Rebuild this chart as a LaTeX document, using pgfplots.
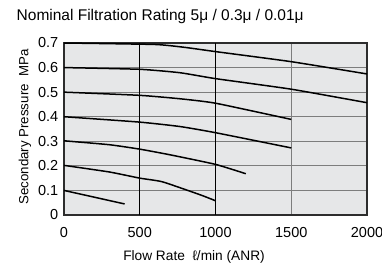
\documentclass[border=0pt]{standalone}
\usepackage{pgfplots}
\pgfplotsset{compat=1.18}
\usepackage{fontspec}
\setmainfont{Liberation Sans}
\definecolor{bg}{RGB}{230,231,232}
\definecolor{gridg}{RGB}{125,125,125}
\definecolor{frame}{RGB}{45,45,45}
\begin{document}
\begin{tikzpicture}
\path[use as bounding box] (0pt,0pt) rectangle (382pt,268pt);
\begin{axis}[
  at={(64pt,53pt)}, anchor=south west,
  scale only axis, width=303pt, height=172pt,
  xmin=0, xmax=2000, ymin=0, ymax=0.7,
  xtick={0,500,1000,1500,2000},
  ytick={0,0.1,0.2,0.3,0.4,0.5,0.6,0.7},
  major tick length=0pt,
  axis background/.style={fill=bg},
  axis line style={frame, line width=1.4pt},
  ymajorgrids, xmajorgrids,
  grid style={gridg, line width=0.9pt},
  /pgf/number format/assume math mode=true,
  /pgf/number format/fixed,
  /pgf/number format/precision=1,
  /pgf/number format/1000 sep={},
  yticklabel style={anchor=east, inner sep=0pt, xshift=-5.5pt, font=\fontsize{14.5}{16}\selectfont},
  xticklabel style={anchor=north, inner sep=0pt, yshift=-12.5pt, font=\fontsize{14.5}{16}\selectfont},
  clip=false,
]
\draw[black, line width=1pt] (axis cs:500,0) -- (axis cs:500,0.7);
\draw[black, line width=1pt] (axis cs:1000,0) -- (axis cs:1000,0.7);
\addplot[black, line width=1.5pt, smooth, tension=0.3] coordinates {(0,0.700)(600,0.694)(800,0.682)(1000,0.665)(1500,0.624)(2000,0.574)};
\addplot[black, line width=1.5pt, smooth, tension=0.3] coordinates {(0,0.600)(500,0.593)(766,0.579)(1000,0.555)(1500,0.512)(2000,0.457)};
\addplot[black, line width=1.5pt, smooth, tension=0.3] coordinates {(0,0.500)(500,0.487)(766,0.473)(1000,0.455)(1500,0.389)};
\addplot[black, line width=1.5pt, smooth, tension=0.3] coordinates {(0,0.400)(500,0.378)(766,0.360)(1000,0.335)(1500,0.273)};
\addplot[black, line width=1.5pt, smooth, tension=0.3] coordinates {(0,0.302)(300,0.286)(500,0.268)(700,0.245)(1000,0.206)(1200,0.168)};
\addplot[black, line width=1.5pt, smooth, tension=0.3] coordinates {(0,0.202)(300,0.175)(500,0.150)(650,0.135)(900,0.082)(1000,0.058)};
\addplot[black, line width=1.5pt] coordinates {(0,0.100)(400,0.045)};
\end{axis}
\node[anchor=base west, inner sep=0pt, font=\fontsize{15.5}{17}\selectfont] at (16.5pt,247.3pt) {Nominal Filtration Rating 5μ / 0.3μ / 0.01μ};
\node[anchor=base, inner sep=0pt, font=\fontsize{13.7}{15}\selectfont] at (194pt,7.3pt) {Flow Rate\ \ ℓ/min (ANR)};
\node[rotate=90, inner sep=0pt, font=\fontsize{13.3}{15}\selectfont] at (25pt,141pt) {Secondary Pressure\ \ MPa};
\end{tikzpicture}
\end{document}
